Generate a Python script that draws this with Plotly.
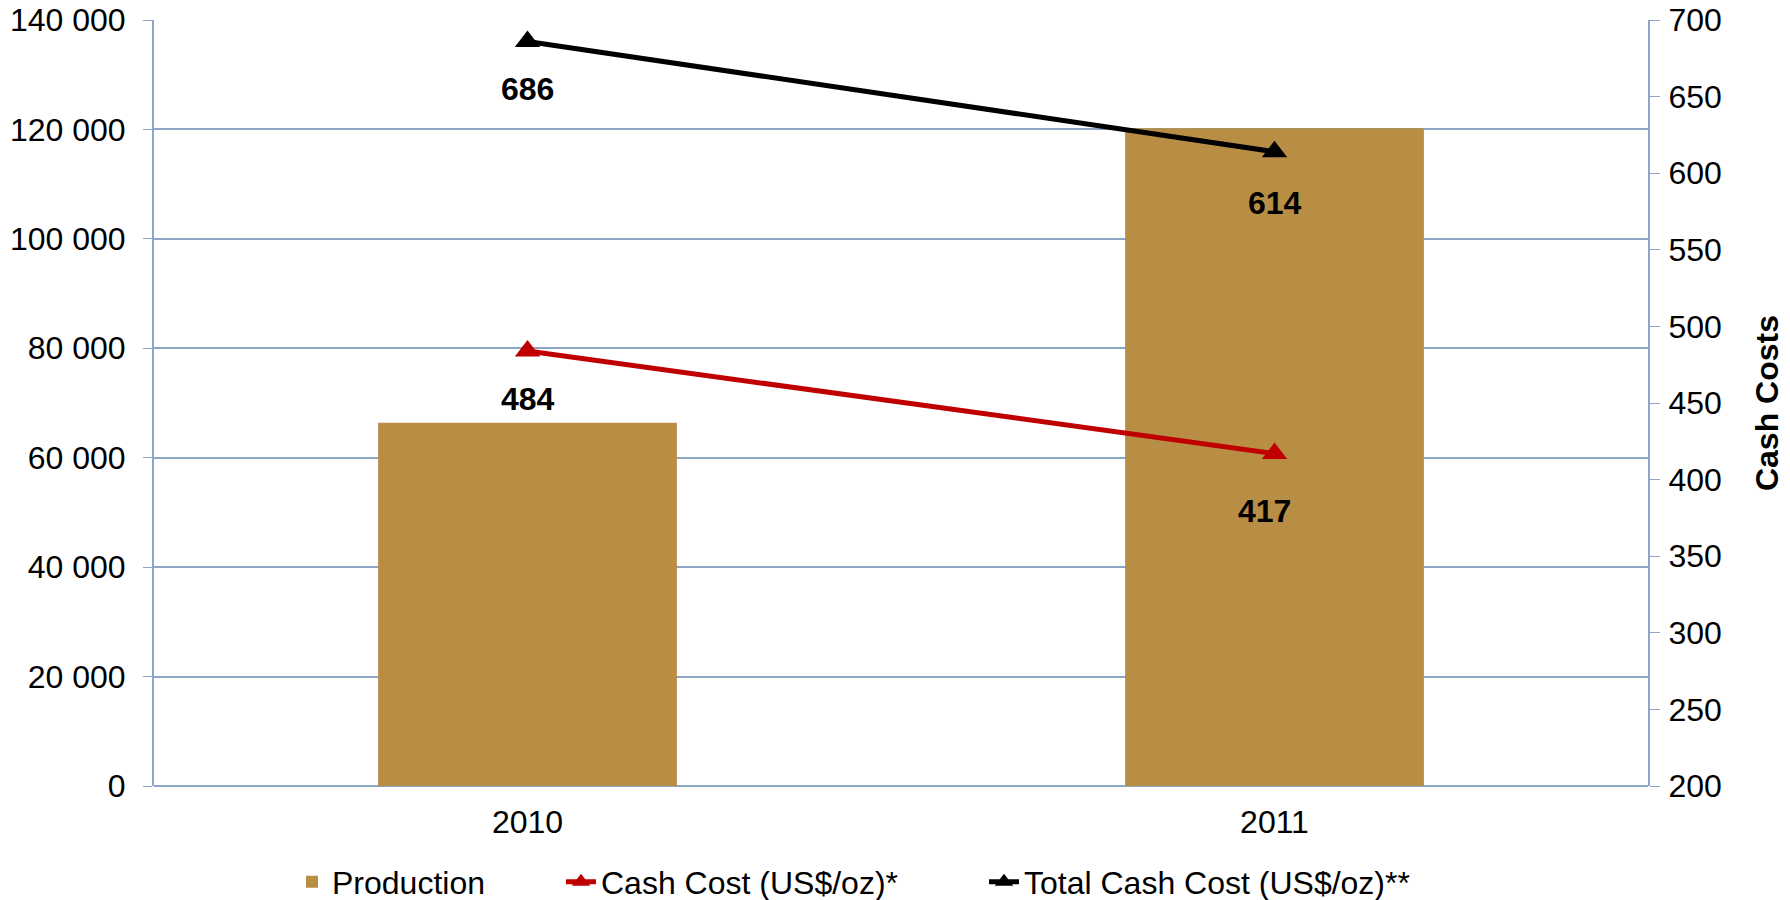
import plotly.graph_objects as go

# data
years = ["2010", "2011"]
production = [66400, 120200]
cash_cost = [484, 417]
total_cash_cost = [686, 614]

GRID = "#8EA5C5"
FONT = "Liberation Sans, Arial, sans-serif"
FS = 32

fig = go.Figure()

fig.add_trace(
    go.Bar(
        x=years,
        y=production,
        name="Production",
        marker={"color": "#B88E45", "line": {"width": 0}},
        width=0.4,
        legend="legend",
    )
)
fig.add_trace(
    go.Scatter(
        x=years,
        y=cash_cost,
        name="Cash Cost (US$/oz)*",
        mode="lines+markers",
        line={"color": "#C00000", "width": 5},
        marker={"symbol": "triangle-up", "size": 22, "color": "#C00000"},
        yaxis="y2",
        legend="legend2",
    )
)
fig.add_trace(
    go.Scatter(
        x=years,
        y=total_cash_cost,
        name="Total Cash Cost (US$/oz)**",
        mode="lines+markers",
        line={"color": "#000000", "width": 5},
        marker={"symbol": "triangle-up", "size": 22, "color": "#000000"},
        yaxis="y2",
        legend="legend3",
    )
)

# value labels below the line points (x given as category index)
label_shift = {(0, 0): -48, (0, 1): -57, (1, 0): -48, (1, 1): -51}
for s, series in enumerate([cash_cost, total_cash_cost]):
    for i, val in enumerate(series):
        fig.add_annotation(
            x=i,
            y=val,
            yref="y2",
            text=f"<b>{val}</b>",
            showarrow=False,
            yshift=label_shift[(s, i)],
            xshift=-10 if (s, i) == (0, 1) else 0,
            font={"family": FONT, "size": FS, "color": "#000000"},
        )


def legend_at(px):
    # px = left edge of the legend, in pixels
    return {
        "orientation": "h",
        "x": (px - 154) / 1494,
        "xanchor": "left",
        "y": -0.1253,
        "yanchor": "middle",
        "font": {"family": FONT, "size": FS},
        "bgcolor": "rgba(0,0,0,0)",
    }


fig.update_layout(
    width=1790,
    height=900,
    margin={"l": 154, "r": 142, "t": 20, "b": 114, "autoexpand": False},
    plot_bgcolor="white",
    paper_bgcolor="white",
    separators=". ",
    font={"family": FONT, "size": FS, "color": "#000000"},
    showlegend=True,
    legend=legend_at(292),
    legend2=legend_at(561),
    legend3=legend_at(984),
    xaxis={
        "type": "category",
        "range": [-0.5, 1.5],
        "showline": False,
        "ticks": "",
        "showgrid": False,
        "ticklabelstandoff": 14,
    },
    yaxis={
        "range": [0, 140000],
        "dtick": 20000,
        "tickformat": ",d",
        "showgrid": True,
        "gridcolor": GRID,
        "gridwidth": 1.5,
        "showline": True,
        "linecolor": GRID,
        "linewidth": 2,
        "ticks": "outside",
        "ticklen": 9,
        "tickcolor": GRID,
        "zeroline": True,
        "zerolinecolor": GRID,
        "zerolinewidth": 2,
        "ticklabelstandoff": 11,
        "ticklabeloverflow": "allow",
    },
    yaxis2={
        "range": [200, 700],
        "dtick": 50,
        "overlaying": "y",
        "side": "right",
        "showgrid": False,
        "showline": True,
        "linecolor": GRID,
        "linewidth": 2,
        "ticks": "outside",
        "ticklen": 10,
        "tickcolor": GRID,
        "zeroline": False,
        "ticklabelstandoff": 2,
        "ticklabeloverflow": "allow",
        "title": {
            "text": "<b>Cash Costs</b>",
            "font": {"family": FONT, "size": 32},
            "standoff": 35,
        },
    },
)

# drop the default 8px body margin so the figure fills the window exactly
fig.write_html(
    "out.html",
    config={"displayModeBar": False},
    post_script="document.body.style.margin = '0';",
)
